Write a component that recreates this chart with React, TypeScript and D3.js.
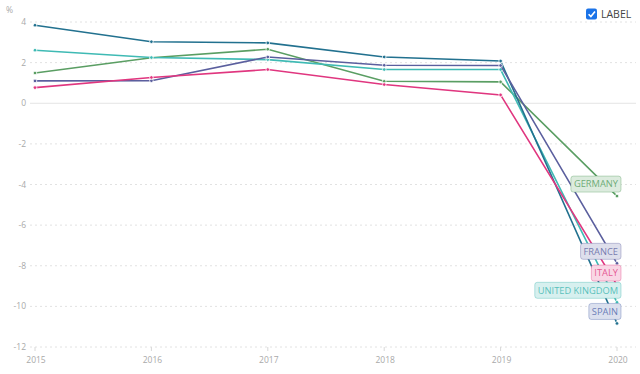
import React, { useEffect, useRef } from "react";
import * as d3 from "d3";

const years = [2015, 2016, 2017, 2018, 2019, 2020];
const yTicks = [4, 2, 0, -2, -4, -6, -8, -10, -12];

const spain = [3.84, 3.03, 2.97, 2.28, 2.08, -10.84];
const unitedKingdom = [2.61, 2.25, 2.15, 1.66, 1.66, -9.8];
const germany = [1.49, 2.24, 2.66, 1.08, 1.05, -4.57];
const france = [1.1, 1.11, 2.28, 1.87, 1.86, -7.88];
const italy = [0.77, 1.27, 1.66, 0.92, 0.41, -8.95];

const seriesNames = ["GERMANY", "UNITED KINGDOM", "SPAIN", "FRANCE", "ITALY"];
const seriesValues = [germany, unitedKingdom, spain, france, italy];
const lineColors = ["#5a9e63", "#3fbab4", "#22718f", "#5b5f9e", "#e0367f"];
const labelColors = ["#4f9a5a", "#36b3ad", "#4a63a8", "#5b5f9e", "#e0367f"];

export default function App() {
  const ref = useRef<SVGSVGElement>(null);

  useEffect(() => {
    const svg = d3.select(ref.current);
    svg.selectAll("*").remove();
    const W = 640, H = 374;
    const x = d3.scaleLinear().domain([2015, 2020]).range([35, 617]);
    const y = d3.scaleLinear().domain([-12, 4]).range([347, 22]);
    const font = "'Open Sans', 'Noto Sans', sans-serif";

    // grid
    const grid = svg.append("g");
    yTicks.forEach((t) => {
      grid
        .append("line")
        .attr("x1", 30)
        .attr("x2", 636)
        .attr("y1", y(t))
        .attr("y2", y(t))
        .attr("stroke", t === 0 ? "#e4e4e4" : "#e2e2e2")
        .attr("stroke-width", 1)
        .attr("stroke-dasharray", t === 0 ? null : "2,3");
      grid
        .append("text")
        .attr("x", 26)
        .attr("y", y(t) + 3)
        .attr("text-anchor", "end")
        .attr("font-family", font)
        .attr("font-size", 8.5)
        .attr("fill", "#a9a9a9")
        .text(String(t));
    });
    years.forEach((yr) => {
      grid
        .append("line")
        .attr("x1", x(yr))
        .attr("x2", x(yr))
        .attr("y1", 347)
        .attr("y2", 351)
        .attr("stroke", "#d8d8d8");
      grid
        .append("text")
        .attr("x", x(yr) + 1)
        .attr("y", 363)
        .attr("text-anchor", "middle")
        .attr("font-family", font)
        .attr("font-size", 8.5)
        .attr("fill", "#a9a9a9")
        .text(String(yr));
    });
    svg
      .append("text")
      .attr("x", 6)
      .attr("y", 13)
      .attr("font-family", font)
      .attr("font-size", 8.5)
      .attr("fill", "#a9a9a9")
      .text("%");

    // lines
    const line = d3
      .line<number>()
      .x((_, i) => x(years[i]))
      .y((d) => y(d));
    seriesValues.forEach((vals, si) => {
      const g = svg.append("g");
      g.append("path")
        .attr("d", line(vals))
        .attr("fill", "none")
        .attr("stroke", lineColors[si])
        .attr("stroke-width", 1.6);
      vals.forEach((v, i) => {
        g.append("circle")
          .attr("cx", x(years[i]))
          .attr("cy", y(v))
          .attr("r", 1.8)
          .attr("fill", lineColors[si])
          .attr("stroke", "#fff")
          .attr("stroke-width", 0.8);
      });
    });

    // end labels
    seriesValues.forEach((vals, si) => {
      const v = vals[vals.length - 1];
      const cy = y(v) - 12;
      const g = svg.append("g");
      const txt = g
        .append("text")
        .attr("font-family", font)
        .attr("font-size", 9.3)
        .attr("fill", labelColors[si])
        .attr("fill-opacity", 0.8)
        .attr("text-anchor", "middle")
        .attr("y", cy + 3.3)
        .text(seriesNames[si]);
      const w = (txt.node() as SVGTextElement).getComputedTextLength() + 6;
      const right = 621;
      txt.attr("x", right - w / 2);
      g.insert("rect", "text")
        .attr("x", right - w)
        .attr("y", cy - 8)
        .attr("width", w)
        .attr("height", 16)
        .attr("rx", 2.5)
        .attr("fill", "#fff");
      g.insert("rect", "text")
        .attr("x", right - w)
        .attr("y", cy - 8)
        .attr("width", w)
        .attr("height", 16)
        .attr("rx", 2.5)
        .attr("fill", labelColors[si])
        .attr("fill-opacity", 0.2)
        .attr("stroke", labelColors[si])
        .attr("stroke-opacity", 0.35)
        .attr("stroke-width", 1);
    });

    // checkbox
    const cb = svg.append("g");
    cb.append("rect")
      .attr("x", 586)
      .attr("y", 8.5)
      .attr("width", 11)
      .attr("height", 11)
      .attr("rx", 2)
      .attr("fill", "#1a73e8");
    cb.append("path")
      .attr("d", "M588.6,14.2 L590.9,16.6 L595,11.4")
      .attr("fill", "none")
      .attr("stroke", "#fff")
      .attr("stroke-width", 1.6);
    cb.append("text")
      .attr("x", 601)
      .attr("y", 18)
      .attr("font-family", font)
      .attr("font-size", 10.5)
      .attr("fill", "#444")
      .text("LABEL");

    svg.attr("width", W).attr("height", H);
  }, []);

  return (
    <svg
      ref={ref}
      width={640}
      height={374}
      style={{ position: "absolute", left: 0, top: 0, background: "#fff" }}
    />
  );
}
